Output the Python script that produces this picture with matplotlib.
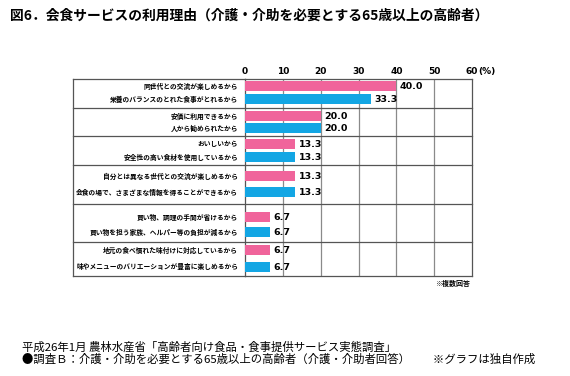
import matplotlib
matplotlib.use("Agg")
from matplotlib import pyplot as plt
import matplotlib.transforms as mtransforms

plt.rcParams['font.family'] = ['Noto Sans CJK JP', 'DejaVu Sans']

# 項目と値
labels = [
    "同世代との交流が楽しめるから",
    "栄養のバランスのとれた食事がとれるから",
    "安価に利用できるから",
    "人から勧められたから",
    "おいしいから",
    "安全性の高い食材を使用しているから",
    "自分とは異なる世代との交流が楽しめるから",
    "会食の場で、さまざまな情報を得ることができるから",
    "買い物、調理の手間が省けるから",
    "買い物を担う家族、ヘルパー等の負担が減るから",
    "地元の食べ慣れた味付けに対応しているから",
    "味やメニューのバリエーションが豊富に楽しめるから",
]
values = [40.0, 33.3, 20.0, 20.0, 13.3, 13.3, 13.3, 13.3, 6.7, 6.7, 6.7, 6.7]
xticks = [0, 10, 20, 30, 40, 50, 60]

# レイアウト (縦位置は画像のピクセル位置)
ypos = [86, 99, 116, 128, 144, 157, 176, 192, 217, 232, 250, 267]
seps = [108, 136, 165, 204, 242]
top, bottom = 79, 276
pink = "#F0649B"
blue = "#13A6E4"

fig = plt.figure(figsize=(5.7, 3.76), dpi=100)
ax = fig.add_axes([245 / 570, 1 - bottom / 376, 227 / 570, (bottom - top) / 376])

colors = [pink if i % 2 == 0 else blue for i in range(len(values))]
ax.barh(ypos, values, height=10, color=colors, zorder=3)

ax.set_xlim(0, 60)
ax.set_ylim(bottom, top)
ax.set_yticks([])
ax.set_xticks(xticks)
ax.xaxis.tick_top()
ax.set_xticklabels([str(t) for t in xticks], fontsize=6.5, fontweight='bold', family='DejaVu Sans')
ax.tick_params(axis='x', length=0, pad=2.5)
ax.annotate("(%)", xy=(60, top), xytext=(4.2, 2.5), textcoords='offset points',
            fontsize=6.5, fontweight='bold', family='DejaVu Sans', ha='left', va='bottom',
            annotation_clip=False)
for t in xticks[1:-1]:
    ax.axvline(t, color="#8a8a8a", lw=0.9, zorder=1)
for s in ax.spines.values():
    s.set_color("#555555")
    s.set_linewidth(0.9)

# 値ラベル
for y, v in zip(ypos, values):
    ax.text(v + 0.9, y + 0.8, f"{v:.1f}", fontsize=6.8, fontweight='bold', family='DejaVu Sans',
            va='center', ha='left', zorder=4)

# 項目ラベル
for y, lab in zip(ypos, labels):
    ax.text(-1.8, y, lab, fontsize=4.85, fontweight='bold', ha='right', va='center')

# 項目欄の枠と区切り線
trans = mtransforms.blended_transform_factory(ax.transAxes, ax.transData)
x0 = -(245 - 73) / 227
for s in seps:
    ax.plot([x0, 1], [s, s], transform=trans, color="#555555", lw=0.9, clip_on=False, zorder=2)
ax.plot([x0, 0], [top, top], transform=trans, color="#555555", lw=0.9, clip_on=False)
ax.plot([x0, 0], [bottom, bottom], transform=trans, color="#555555", lw=0.9, clip_on=False)
ax.plot([x0, x0], [top, bottom], transform=trans, color="#555555", lw=0.9, clip_on=False)

ax.text(0.99, bottom + 7, "※複数回答", transform=trans, fontsize=5, fontweight='bold',
        ha='right', va='center')

fig.text(10 / 570, 1 - 16 / 376,
         "図6．会食サービスの利用理由（介護・介助を必要とする65歳以上の高齢者）",
         fontsize=9.95, fontweight='bold', ha='left', va='center')
fig.text(22 / 570, 1 - 347 / 376,
         "平成26年1月 農林水産省「高齢者向け食品・食事提供サービス実態調査」",
         fontsize=8.2, ha='left', va='center')
fig.text(22 / 570, 1 - 359 / 376,
         "●調査Ｂ：介護・介助を必要とする65歳以上の高齢者（介護・介助者回答）　　※グラフは独自作成",
         fontsize=8.2, ha='left', va='center')

fig.savefig("out.png", dpi=100)
